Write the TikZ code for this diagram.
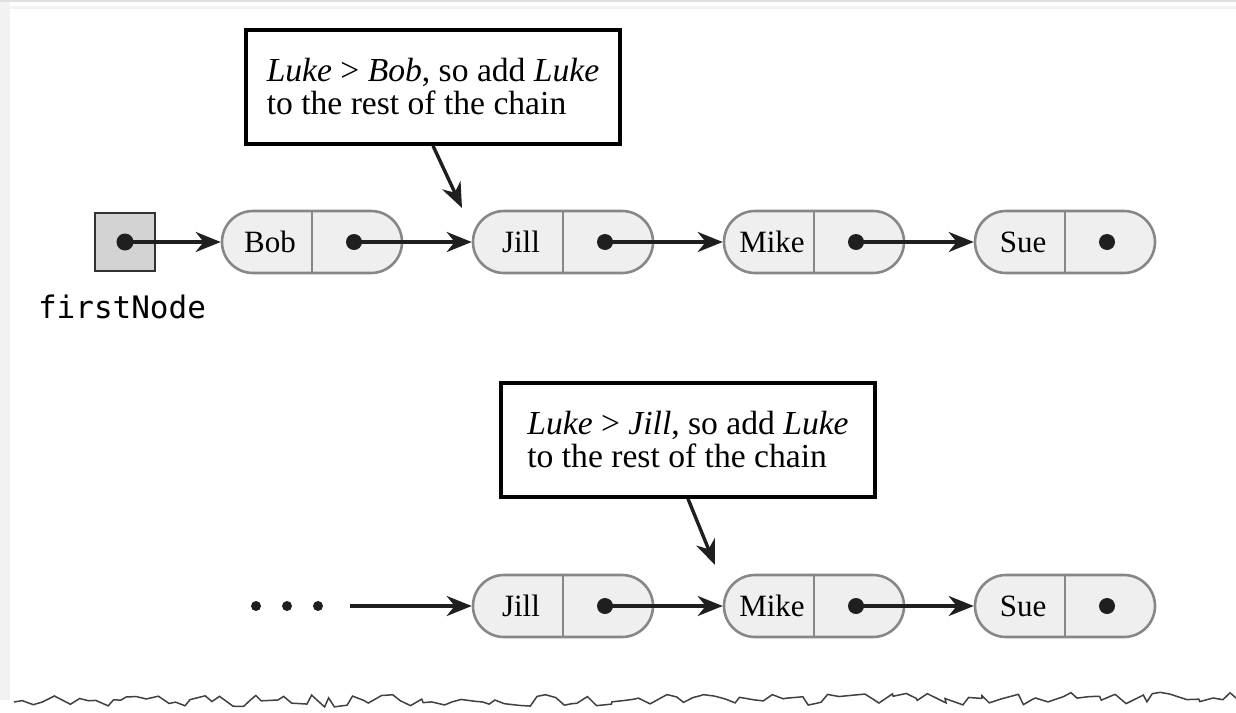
\documentclass[tikz,border=0pt]{standalone}
\usepackage{fontspec}
\setmainfont{Liberation Serif}
\setmonofont{DejaVu Sans Mono}
\usepackage{xcolor}
\usepackage{tikz}
\usetikzlibrary{arrows.meta,positioning,calc,shapes.misc,
                decorations.pathmorphing}
\definecolor{cellfill}{RGB}{239,239,239}
\definecolor{celledge}{RGB}{135,135,135}
\definecolor{headfill}{RGB}{211,211,211}
\newcommand{\code}[1]{\texttt{#1}}

\begin{document}
\begin{tikzpicture}[x=1pt,y=1pt,font=\fontsize{31}{31}\selectfont,
  >={Stealth[length=25pt,width=20pt,inset=8pt]},
  cell/.style={rounded rectangle,draw=celledge,line width=2.6pt,fill=cellfill,
               minimum width=180pt,minimum height=62pt,inner sep=0pt},
  note/.style={draw,line width=3.6pt,minimum width=374pt,minimum height=114pt,
               align=left,inner sep=0pt,font=\fontsize{33.6}{33}\selectfont},
  ptr/.style={circle,fill=black!88,inner sep=0pt,minimum size=16pt},
  link/.style={->,line width=3.4pt,black!88}]
\useasboundingbox (0,0) rectangle (1236,-712);
% page frame
\fill[black!5] (0,0) rectangle (10,-700);
\draw[black!12,line width=2pt] (0,-1) -- (1236,-1);
\draw[black!5,line width=3pt] (10,-7) -- (1236,-7);
\pgfmathsetseed{7}
\draw[black!75,line width=1.5pt,decorate,
      decoration={random steps,segment length=9pt,amplitude=6pt}]
  (14,-702) -- (1236,-698);
% top chain
\def\ya{-242}
\node[draw=black!80,line width=2.6pt,fill=headfill,minimum width=60pt,
      minimum height=58pt,inner sep=0pt] (head) at (125,\ya) {};
\node[ptr,minimum size=17pt] (head-p) at (head) {};
\node[below=22pt of head,xshift=-3pt,inner sep=0pt,
      font=\ttfamily\fontsize{31}{31}\selectfont] (headlbl) {firstNode};
\foreach \n/\t/\x in {bob/Bob/312,jill/Jill/563,mike/Mike/814,sue/Sue/1065} {
  \node[cell] (\n) at (\x,\ya) {};
  \draw[celledge,line width=2.6pt] (\n.north) -- (\n.south);
  \node (\n-t) at ($(\n)+(-42,0)$) {\t};
  \node[ptr] (\n-p) at ($(\n)+(42,0)$) {};
}
\draw[link] (head-p.center) -- (bob.west);
\draw[link] (bob-p.center) -- (jill.west);
\draw[link] (jill-p.center) -- (mike.west);
\draw[link] (mike-p.center) -- (sue.west);
\node[note] (note1) at (433,-87)
  {\textit{Luke} > \textit{Bob}, so add \textit{Luke}\\to the rest of the chain};
\coordinate (hit1) at (462,-208);
\draw[link] (note1.south) -- (hit1);
% rest of the chain, one step on
\def\yb{-606}
\foreach \i/\x in {1/256,2/287,3/318}
  \node[ptr,minimum size=10pt] (gap\i) at (\x,\yb) {};
\coordinate (gapend) at (350,\yb);
\foreach \n/\t/\x in {jill2/Jill/563,mike2/Mike/814,sue2/Sue/1065} {
  \node[cell] (\n) at (\x,\yb) {};
  \draw[celledge,line width=2.6pt] (\n.north) -- (\n.south);
  \node (\n-t) at ($(\n)+(-42,0)$) {\t};
  \node[ptr] (\n-p) at ($(\n)+(42,0)$) {};
}
\draw[link] (gapend) -- (jill2.west);
\draw[link] (jill2-p.center) -- (mike2.west);
\draw[link] (mike2-p.center) -- (sue2.west);
\node[note] (note2) at (688,-440)
  {\textit{Luke} > \textit{Jill}, so add \textit{Luke}\\to the rest of the chain};
\coordinate (hit2) at (715,-565);
\draw[link] (note2.south) -- (hit2);
\end{tikzpicture}
\end{document}
